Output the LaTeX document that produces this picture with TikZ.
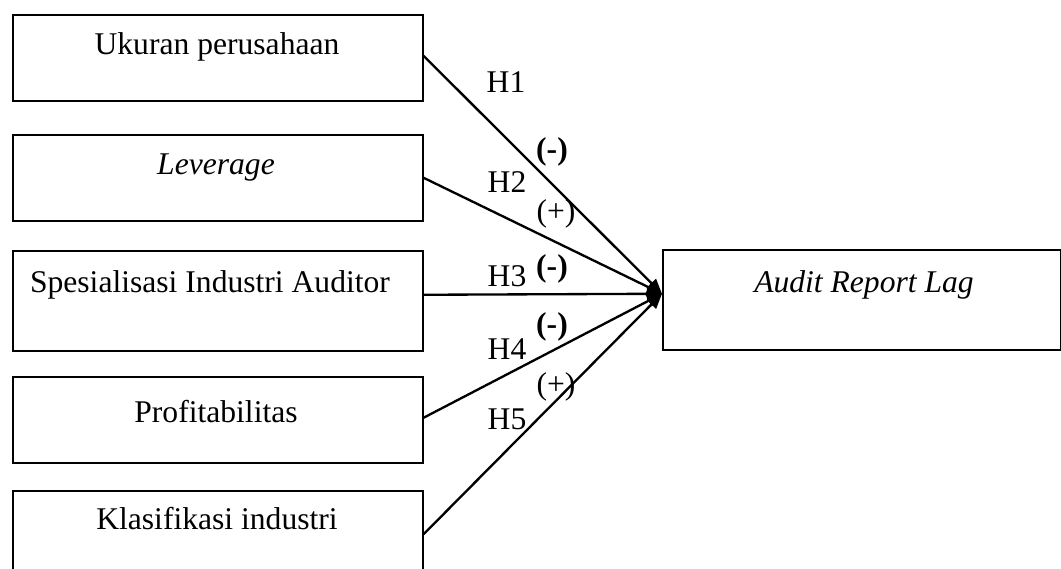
\documentclass[tikz,border=0pt]{standalone}
\usepackage{fontspec}
\setmainfont{Liberation Serif}
\usetikzlibrary{arrows.meta,calc}
\def\pxu{0.386pt}
\begin{document}
\begin{tikzpicture}[x=0.386pt,y=-0.386pt,
  box/.style={draw,line width=0.6pt,anchor=north west,inner sep=0pt,minimum width={410*\pxu}},
  txt/.style={inner sep=0pt,anchor=base,font=\fontsize{12.2}{14}\selectfont},
  arr/.style={line width=0.9pt,-{Triangle[length=5.8pt,width=4.8pt]}}]
\useasboundingbox (0,0) rectangle (1061,569);
\clip (0,0) rectangle (1061,569);
% boxes
\node[box,minimum height={86*\pxu}] (b1) at (12,14) {};
\node[box,minimum height={86*\pxu}] (b2) at (12,134) {};
\node[box,minimum height={100*\pxu}] (b3) at (12,250) {};
\node[box,minimum height={86*\pxu}] (b4) at (12,376) {};
\node[box,minimum height={87*\pxu}] (b5) at (12,490) {};
\node[box,minimum width={398*\pxu},minimum height={100*\pxu}] (out) at (662,249) {};
% texts
\node[txt] (t1) at (217,55) {Ukuran perusahaan};
\node[txt] (t2) at (216,175) {\itshape Leverage};
\node[txt] (t3) at (210,293) {Spesialisasi Industri Auditor};
\node[txt] (t4) at (216,423) {Profitabilitas};
\node[txt] (t5) at (217,530) {Klasifikasi industri};
\node[txt] (to) at (864,293) {\itshape Audit Report Lag};
% connector ends
\coordinate (s1) at ($(b1.east)+(0,-2)$);
\coordinate (s2) at (b2.east);
\coordinate (s3) at ($(b3.east)+(0,-6)$);
\coordinate (s4) at ($(b4.east)+(0,-2)$);
\coordinate (s5) at (b5.east);
\coordinate (tip) at ($(out.west)+(0,-6)$);
\draw[arr] (s1) -- (tip);
\draw[arr] (s2) -- (tip);
\draw[arr] (s3) -- (tip);
\draw[arr] (s4) -- (tip);
\draw[arr] (s5) -- (tip);
% labels
\node[txt] (h1) at (506,93) {H1};
\node[txt] (h2) at (507,193) {H2};
\node[txt] (h3) at (507,287) {H3};
\node[txt] (h4) at (507,360) {H4};
\node[txt] (h5) at (507,430) {H5};
\node[txt] (p1) at (552,159.5) {\bfseries (-)};
\node[txt] (p2) at (556,222) {(+)};
\node[txt] (p3) at (552,276.5) {\bfseries (-)};
\node[txt] (p4) at (552,334.5) {\bfseries (-)};
\node[txt] (p5) at (556,394.5) {(+)};
\end{tikzpicture}
\end{document}
